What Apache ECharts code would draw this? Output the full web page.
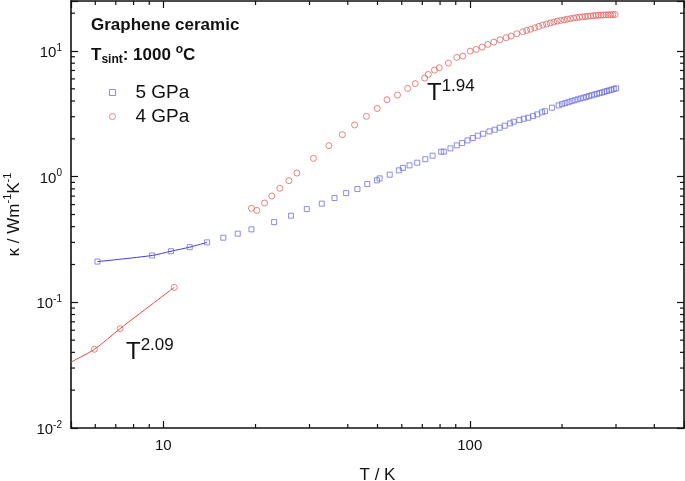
<!DOCTYPE html>
<html><head><meta charset="utf-8">
<script src="https://cdn.jsdelivr.net/npm/echarts@6/dist/echarts.min.js"></script>
<style>html,body{margin:0;padding:0;background:#fff}#c{width:685px;height:481px}</style>
</head><body><div id="c"></div>
<script>
// ---- data ----
const T5 = [6.1, 9.2, 10.6, 12.2, 13.9, 15.7, 17.5, 19.4, 23.0, 26.1, 29.4, 32.9, 36.2, 39.5, 43.0, 46.3, 49.8, 50.8, 54.8, 58.7, 60.5, 63.6, 67.4, 71.6, 75.6, 80.7, 82.3, 86.5, 90.7, 94.4, 98.3, 102.3, 106.2, 110.6, 115.9, 120.6, 125.2, 130.0, 135.4, 139.1, 145.2, 150.0, 155.3, 160.9, 166.1, 172.0, 176.0, 185.4, 195, 200, 205, 210, 215, 220, 225, 230, 235, 240, 245, 250, 255, 260, 265, 270, 275, 280, 285, 290, 295, 300];
const K5 = [0.211, 0.236, 0.255, 0.275, 0.300, 0.327, 0.352, 0.381, 0.435, 0.489, 0.552, 0.610, 0.676, 0.740, 0.797, 0.874, 0.935, 0.969, 1.037, 1.122, 1.175, 1.230, 1.292, 1.377, 1.469, 1.581, 1.581, 1.680, 1.774, 1.851, 1.944, 2.028, 2.119, 2.198, 2.292, 2.365, 2.454, 2.545, 2.655, 2.738, 2.820, 2.893, 2.946, 3.034, 3.13, 3.25, 3.32, 3.54, 3.69, 3.78, 3.85, 3.92, 3.99, 4.06, 4.12, 4.19, 4.25, 4.31, 4.38, 4.44, 4.50, 4.56, 4.62, 4.68, 4.74, 4.80, 4.86, 4.92, 4.98, 5.05];
const T4 = [5.96, 7.23, 10.86, 19.4, 20.2, 21.4, 22.6, 24.0, 25.7, 27.3, 30.9, 34.7, 38.4, 42.1, 46.0, 49.9, 53.7, 58.1, 62.7, 66.4, 71.2, 73.2, 76.7, 79.5, 85.2, 90.7, 94.9, 100.3, 104.9, 109.7, 114.5, 119.8, 125.6, 131.4, 136.4, 142.3, 148.8, 153.4, 158, 163, 168, 173, 178, 183, 188, 193, 198, 203, 208, 213, 218, 223, 228, 233, 238, 243, 248, 253, 258, 263, 268, 273, 278, 283, 288, 293, 298];
const K4 = [0.0423, 0.0618, 0.1315, 0.560, 0.539, 0.617, 0.701, 0.807, 0.929, 1.068, 1.398, 1.765, 2.16, 2.58, 3.02, 3.49, 4.10, 4.46, 5.04, 5.50, 6.09, 6.51, 7.05, 7.36, 8.01, 8.90, 9.11, 9.98, 10.3, 10.74, 11.28, 11.77, 12.3, 12.76, 13.14, 13.73, 14.24, 14.59, 14.9, 15.3, 15.7, 16.1, 16.4, 16.7, 17.0, 17.3, 17.5, 17.7, 17.9, 18.1, 18.3, 18.45, 18.6, 18.7, 18.8, 18.9, 19.0, 19.1, 19.2, 19.25, 19.3, 19.35, 19.4, 19.4, 19.45, 19.5, 19.5];
const fit5T = [6.1, 9.2, 10.6, 12.2, 13.9];
const fit5K = [0.211, 0.236, 0.255, 0.275, 0.300];
const fit4T = [5, 5.96, 7.23, 10.86];
const fit4K = [0.0335, 0.0423, 0.0618, 0.1315];
const xTickLabels = ['10', '100'];
const yTickExps = ['-2', '-1', '0', '1'];
const xMinorTicks = [6, 7, 8, 9, 20, 30, 40, 50, 60, 70, 80, 90, 200, 300, 400];
const yMinorTicks = [0.02, 0.03, 0.04, 0.05, 0.06, 0.07, 0.08, 0.09, 0.2, 0.3, 0.4, 0.5, 0.6, 0.7, 0.8, 0.9, 2, 3, 4, 5, 6, 7, 8, 9, 20];
const X_MIN = 5, X_MAX = 500, Y_MIN = 0.01, Y_MAX = 25;

const FONT = '"Liberation Sans", Arial, sans-serif';
const AX = '#111111';
const BLUE_PT = '#7070e0', RED_PT = '#e06464';
const BLUE_LN = '#3a3ad6', RED_LN = '#e24a4a';

const zip = (a, b) => a.map((v, i) => [v, b[i]]);
const isPow = v => Math.abs(Math.log10(v) - Math.round(Math.log10(v))) < 1e-6;

const commonX = {
  type: 'log', logBase: 10, min: X_MIN, max: X_MAX,
  axisLine: { show: true, onZero: false, lineStyle: { color: AX, width: 1.6 } },
  axisTick: { show: true, inside: true, length: 7, lineStyle: { color: AX, width: 1.2 } },
  minorTick: { show: false }, splitLine: { show: false }
};
const commonY = {
  type: 'log', logBase: 10, min: Y_MIN, max: Y_MAX,
  axisLine: { show: true, onZero: false, lineStyle: { color: AX, width: 1.6 } },
  axisTick: { show: true, inside: true, length: 7, lineStyle: { color: AX, width: 1.2 } },
  minorTick: { show: false }, splitLine: { show: false }
};

function minorX(params, api) {
  const cs = params.coordSys;
  const x = api.coord([api.value(0), 1])[0];
  const yb = cs.y + cs.height, yt = cs.y;
  const st = { stroke: AX, lineWidth: 1.2 };
  return { type: 'group', children: [
    { type: 'line', shape: { x1: x, y1: yb, x2: x, y2: yb - 4 }, style: st },
    { type: 'line', shape: { x1: x, y1: yt, x2: x, y2: yt + 4 }, style: st }
  ] };
}
function minorY(params, api) {
  const cs = params.coordSys;
  const y = api.coord([10, api.value(1)])[1];
  const xl = cs.x, xr = cs.x + cs.width;
  const st = { stroke: AX, lineWidth: 1.2 };
  return { type: 'group', children: [
    { type: 'line', shape: { x1: xl, y1: y, x2: xl + 4, y2: y }, style: st },
    { type: 'line', shape: { x1: xr, y1: y, x2: xr - 4, y2: y }, style: st }
  ] };
}

const chart = echarts.init(document.getElementById('c'), null, { renderer: 'canvas' });
chart.setOption({
  backgroundColor: '#fff',
  animation: false,
  textStyle: { fontFamily: FONT },
  grid: { left: 71, right: 1, top: 1, bottom: 53, containLabel: false, outerBoundsMode: 'none' },
  legend: {
    data: [
      { name: '5 GPa', icon: 'rect', itemStyle: { color: 'rgba(0,0,0,0)', borderColor: BLUE_PT, borderWidth: 1 } },
      { name: '4 GPa', icon: 'circle', itemStyle: { color: 'rgba(0,0,0,0)', borderColor: RED_PT, borderWidth: 1 } }
    ],
    orient: 'vertical', left: 109, top: 83, padding: 0,
    itemWidth: 6, itemHeight: 6, itemGap: 5, selectedMode: false,
    textStyle: { fontSize: 19, lineHeight: 19, color: '#111', fontFamily: FONT, padding: [0, 0, 0, 15] }
  },
  xAxis: [
    Object.assign({}, commonX, {
      position: 'bottom',
      name: 'T / K', nameLocation: 'middle', nameGap: 39,
      nameTextStyle: { fontSize: 17, color: '#111', fontFamily: FONT },
      axisLabel: {
        show: true, margin: 10, fontSize: 15, color: '#111', fontFamily: FONT,
        showMinLabel: true, showMaxLabel: true,
        formatter: v => { const s = xTickLabels.find(l => Math.abs(+l - v) < 1e-6 * v); return s || ''; }
      }
    }),
    Object.assign({}, commonX, { position: 'top', axisLabel: { show: false } })
  ],
  yAxis: [
    Object.assign({}, commonY, {
      position: 'left',
      name: '{a|κ / Wm}{s|-1}{a|K}{s|-1}', nameLocation: 'middle', nameGap: 45, nameRotate: 90,
      nameTextStyle: {
        color: '#111', fontFamily: FONT, fontSize: 17,
        rich: {
          a: { fontSize: 17, lineHeight: 24, fontFamily: FONT, color: '#111' },
          s: { fontSize: 11, lineHeight: 12, verticalAlign: 'top', fontFamily: FONT, color: '#111' }
        }
      },
      axisLabel: {
        show: true, margin: 9, color: '#111', fontFamily: FONT, padding: [4, 0, 0, 0],
        formatter: v => {
          if (!isPow(v)) return '';
          const e = String(Math.round(Math.log10(v)));
          return yTickExps.indexOf(e) >= 0 ? '{b|10}{s|' + e + '}' : '';
        },
        rich: {
          b: { fontSize: 15, lineHeight: 20, fontFamily: FONT, color: '#111' },
          s: { fontSize: 10, lineHeight: 11, verticalAlign: 'top', fontFamily: FONT, color: '#111' }
        }
      }
    }),
    Object.assign({}, commonY, { position: 'right', axisLabel: { show: false } })
  ],
  series: [
    {
      name: '5 GPa fit', type: 'line', xAxisIndex: 0, yAxisIndex: 0,
      data: zip(fit5T, fit5K), showSymbol: false, smooth: 0.3,
      lineStyle: { color: BLUE_LN, width: 1 }, z: 3, silent: true
    },
    {
      name: '4 GPa fit', type: 'line', xAxisIndex: 0, yAxisIndex: 0,
      data: zip(fit4T, fit4K), showSymbol: false, smooth: 0.3,
      lineStyle: { color: RED_LN, width: 1 }, z: 3, silent: true
    },
    {
      name: '5 GPa', type: 'scatter', xAxisIndex: 0, yAxisIndex: 0,
      data: zip(T5, K5), symbol: 'rect', symbolSize: 5,
      itemStyle: { color: 'rgba(0,0,0,0)', borderColor: BLUE_PT, borderWidth: 1 }, z: 4, silent: true
    },
    {
      name: '4 GPa', type: 'scatter', xAxisIndex: 0, yAxisIndex: 0,
      data: zip(T4, K4), symbol: 'circle', symbolSize: 6,
      itemStyle: { color: 'rgba(0,0,0,0)', borderColor: RED_PT, borderWidth: 1 }, z: 4, silent: true
    },
    {
      name: 'xminor', type: 'custom', xAxisIndex: 0, yAxisIndex: 0, renderItem: minorX,
      data: xMinorTicks.map(v => [v, 1]), clip: false, silent: true, z: 5
    },
    {
      name: 'yminor', type: 'custom', xAxisIndex: 0, yAxisIndex: 0, renderItem: minorY,
      data: yMinorTicks.map(v => [10, v]), clip: false, silent: true, z: 5
    }
  ],
  graphic: [
    { type: 'text', left: 91, top: 17, style: { text: 'Graphene ceramic', font: 'bold 17px ' + FONT, fill: '#111' } },
    { type: 'text', x: 91, y: 55, style: {
      text: '{m|T}{sub|sint}{m|: 1000 }{sup|o}{m|C}', verticalAlign: 'middle', fill: '#111',
      rich: {
        m: { fontSize: 17, fontWeight: 'bold', lineHeight: 22, fontFamily: FONT },
        sub: { fontSize: 12, fontWeight: 'bold', lineHeight: 12, verticalAlign: 'bottom', fontFamily: FONT },
        sup: { fontSize: 12, fontWeight: 'bold', lineHeight: 12, verticalAlign: 'top', fontFamily: FONT }
      } } },
    { type: 'text', x: 427, y: 93, style: {
      text: '{m|T}{sup|1.94}', verticalAlign: 'middle', fill: '#111',
      rich: {
        m: { fontSize: 24, lineHeight: 30, fontFamily: FONT },
        sup: { fontSize: 17, lineHeight: 17, verticalAlign: 'top', fontFamily: FONT }
      } } },
    { type: 'text', x: 126, y: 352, style: {
      text: '{m|T}{sup|2.09}', verticalAlign: 'middle', fill: '#111',
      rich: {
        m: { fontSize: 24, lineHeight: 30, fontFamily: FONT },
        sup: { fontSize: 17, lineHeight: 17, verticalAlign: 'top', fontFamily: FONT }
      } } }
  ]
});
</script>
</body></html>
